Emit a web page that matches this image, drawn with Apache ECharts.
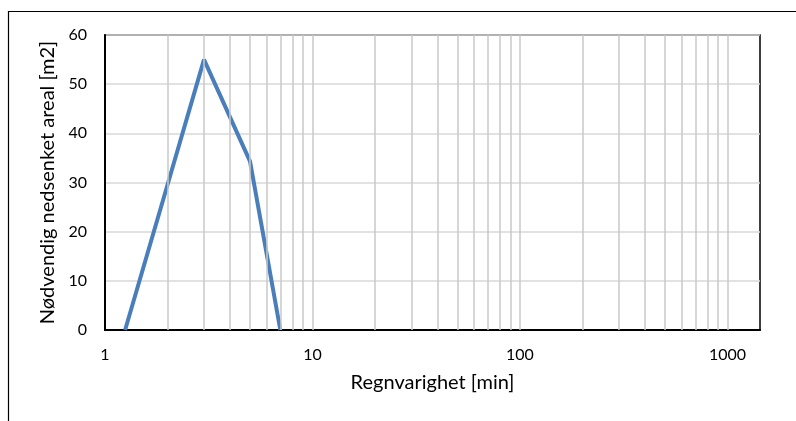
<!DOCTYPE html>
<html>
<head>
<meta charset="utf-8">
<script src="https://cdn.jsdelivr.net/npm/echarts@6/dist/echarts.min.js"></script>
<style>
  html, body { margin: 0; padding: 0; background: #fff; }
  #chart { width: 796px; height: 421px; }
</style>
</head>
<body>
<div id="chart"></div>
<script>
// regnvarighet [min] og nødvendig areal [m2]
const durations = [1.25, 2, 3, 5, 7];
const areas = [0, 29.5, 55, 34.3, 0];
// ekstra loddrette gitterlinjer (log-akse)
const minorTicks = [2, 3, 4, 5, 6, 7, 8, 9, 10, 20, 30, 40, 50, 60, 70, 80, 90, 100,
  200, 300, 400, 500, 600, 700, 800, 900, 1000];
const xLabels = ['1', '10', '100', '1000'];

const font = 'Lato, "Open Sans", sans-serif';
const chart = echarts.init(document.getElementById('chart'));

chart.setOption({
  animation: false,
  backgroundColor: '#fff',
  textStyle: { fontFamily: font },
  grid: {
    left: 105, top: 35, right: 36, bottom: 91,
    show: true, borderColor: '#000', borderWidth: 1.5
  },
  graphic: [{
    type: 'rect',
    shape: { x: 8.5, y: 11.5, width: 820, height: 440 },
    style: { fill: 'none', stroke: '#000', lineWidth: 1.2 },
    silent: true
  }],
  xAxis: {
    type: 'log',
    logBase: 10,
    min: 1,
    max: 1435,
    name: 'Regnvarighet [min]',
    nameLocation: 'middle',
    nameGap: 43,
    nameTextStyle: { fontSize: 20, color: '#000', fontFamily: font },
    axisLine: { lineStyle: { color: '#000', width: 2 } },
    axisTick: { show: false },
    splitLine: { show: false },
    axisLabel: {
      fontSize: 16, color: '#000', margin: 17, fontFamily: font,
      showMaxLabel: false,
      formatter: function (v) {
        const s = String(Math.round(v));
        return xLabels.indexOf(s) >= 0 ? s : '';
      }
    }
  },
  yAxis: {
    type: 'value',
    min: 0, max: 60, interval: 10,
    name: 'Nødvendig nedsenket areal [m2]',
    nameLocation: 'middle',
    nameGap: 44,
    nameTextStyle: { fontSize: 20, color: '#000', fontFamily: font },
    axisLine: { show: true, lineStyle: { color: '#000', width: 2 } },
    axisTick: { show: false },
    splitLine: { lineStyle: { color: '#d9d9d9', width: 1.5 } },
    axisLabel: { fontSize: 16, color: '#000', margin: 18, fontFamily: font }
  },
  series: [
    {
      type: 'line',
      data: [],
      z: 1,
      silent: true,
      markLine: {
        silent: true,
        symbol: 'none',
        label: { show: false },
        lineStyle: { color: '#c8c8c8', width: 1.5, type: 'solid' },
        data: minorTicks.map(v => ({ xAxis: v }))
      }
    },
    {
      type: 'line',
      z: 3,
      data: durations.map((d, i) => [d, areas[i]]),
      showSymbol: false,
      lineStyle: { color: '#4a7ebb', width: 4 },
      itemStyle: { color: '#4a7ebb' }
    }
  ]
});
</script>
</body>
</html>
